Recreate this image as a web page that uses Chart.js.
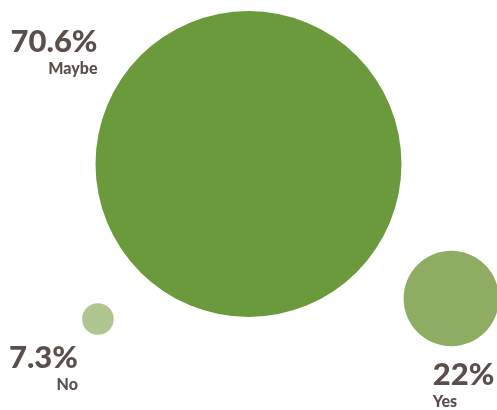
<!DOCTYPE html>
<html>
<head>
<meta charset="utf-8">
<script src="https://cdn.jsdelivr.net/npm/chart.js@4"></script>
<style>
    body { margin: 0; background: #ffffff; }
    #chart { display: block; }
</style>
</head>
<body>
<canvas id="chart" width="497" height="410"></canvas>
<script>
// answers and their share of responses (%)
const categories = ["Maybe", "Yes", "No"];
const shares = [70.6, 22, 7.3];
const shareLabels = ["70.6%", "22%", "7.3%"];
// where each bubble sits on a 0-10 grid
const gridX = [5.0, 9.08, 1.97];
const gridY = [4.0, 7.28, 7.78];
const colors = ["#6a9a3c", "#8fad62", "#b0c691"];

const pxPerPoint = 2.167; // bubble radius per percentage point
const textColor = "#5b4f4c";

// label placement relative to each bubble centre
const labelPlacement = [
    { dx: -151, dy: -112, align: "right" },
    { dx: -18.5, dy: 87, align: "left" },
    { dx: -20, dy: 49, align: "right" },
];

const bubbleLabels = {
    id: "bubbleLabels",
    afterDatasetsDraw(chart) {
        const ctx = chart.ctx;
        const meta = chart.getDatasetMeta(0);
        ctx.save();
        ctx.fillStyle = textColor;
        ctx.textBaseline = "alphabetic";
        meta.data.forEach((pt, i) => {
            const p = labelPlacement[i];
            const x = pt.x + p.dx;
            const y = pt.y + p.dy;
            ctx.textAlign = p.align;
            ctx.font = "900 31px Lato";
            ctx.fillText(shareLabels[i], x, y);
            ctx.font = "900 16px Lato";
            ctx.fillText(categories[i], x, y + 22);
        });
        ctx.restore();
    }
};

new Chart(document.getElementById("chart"), {
    type: "bubble",
    data: {
        labels: categories,
        datasets: [{
            data: shares.map((v, i) => ({ x: gridX[i], y: gridY[i], r: v * pxPerPoint })),
            backgroundColor: colors,
            hoverBackgroundColor: colors,
            borderWidth: 0,
            hoverBorderWidth: 0,
            clip: false,
        }]
    },
    options: {
        responsive: false,
        animation: false,
        layout: { padding: 0, autoPadding: false },
        plugins: {
            legend: { display: false },
            tooltip: { enabled: false },
        },
        scales: {
            x: { display: false, min: 0, max: 10 },
            y: { display: false, min: 0, max: 10, reverse: true },
        },
    },
    plugins: [bubbleLabels]
});
</script>
</body>
</html>
